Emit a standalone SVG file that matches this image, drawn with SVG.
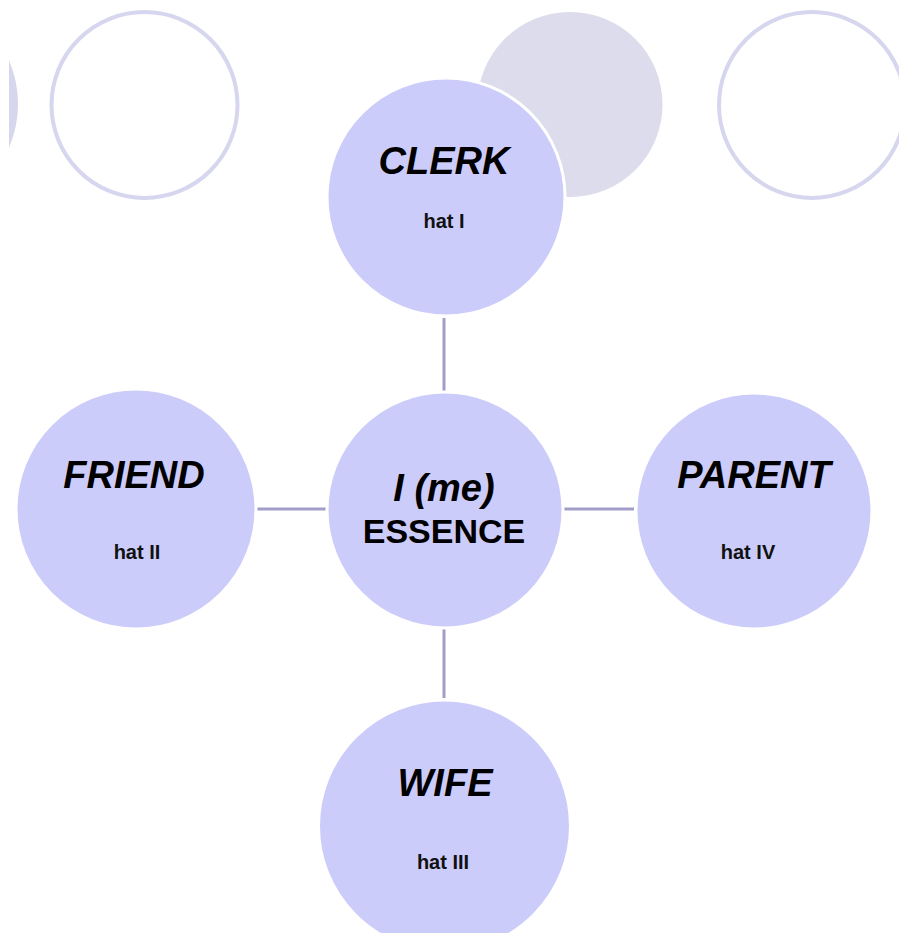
<svg xmlns="http://www.w3.org/2000/svg" width="899" height="933" viewBox="0 0 899 933">
<style>
.deco-ring{fill:none;stroke:#d6d6ee;stroke-width:4}
.deco-fill{fill:#dcdcec}
.node{fill:#ccccfb;stroke:#ffffff;stroke-width:3}
.title{font-family:"Liberation Sans",Arial,sans-serif;font-weight:bold;font-style:italic;font-size:38px;fill:#000;text-anchor:middle}
.sub{font-family:"Liberation Sans",Arial,sans-serif;font-weight:bold;font-size:20px;fill:#111;text-anchor:middle}
.ess{font-family:"Liberation Sans",Arial,sans-serif;font-weight:bold;font-size:34px;fill:#000;text-anchor:middle}
.conn{stroke:#a09ec8;stroke-width:3;fill:none}
</style>
<defs>
<clipPath id="leftclip"><rect x="9" y="0" width="100" height="933"/></clipPath>
</defs>
<rect width="899" height="933" fill="#ffffff"/>
<g id="decor">
<circle cx="-92" cy="104" r="110" fill="#d6d6ee" clip-path="url(#leftclip)"/>
<circle class="deco-ring" cx="144.5" cy="105" r="93"/>
<circle class="deco-fill" cx="570" cy="104.5" r="92.5"/>
<circle class="deco-ring" cx="812" cy="105" r="93"/>
</g>
<g id="connectors">
<line class="conn" x1="444" y1="318" x2="444" y2="392"/>
<line class="conn" x1="444" y1="628" x2="444" y2="698"/>
<line class="conn" x1="255" y1="509" x2="326" y2="509"/>
<line class="conn" x1="563" y1="509" x2="634" y2="509"/>
</g>
<g id="clerk">
<circle class="node" cx="446" cy="197" r="119"/>
<text class="title" x="444" y="174">CLERK</text>
<text class="sub" x="444" y="228">hat I</text>
</g>
<g id="essence">
<circle class="node" cx="445" cy="510" r="118"/>
<text class="title" x="444" y="501">I (me)</text>
<text class="ess" x="444" y="543">ESSENCE</text>
</g>
<g id="friend">
<circle class="node" cx="136" cy="509" r="120"/>
<text class="title" x="134" y="488">FRIEND</text>
<text class="sub" x="137" y="559">hat II</text>
</g>
<g id="parent">
<circle class="node" cx="754" cy="511" r="118"/>
<text class="title" x="754" y="488">PARENT</text>
<text class="sub" x="748" y="559">hat IV</text>
</g>
<g id="wife">
<circle class="node" cx="444.5" cy="826" r="126"/>
<text class="title" x="445" y="796">WIFE</text>
<text class="sub" x="443" y="869">hat III</text>
</g>
</svg>
